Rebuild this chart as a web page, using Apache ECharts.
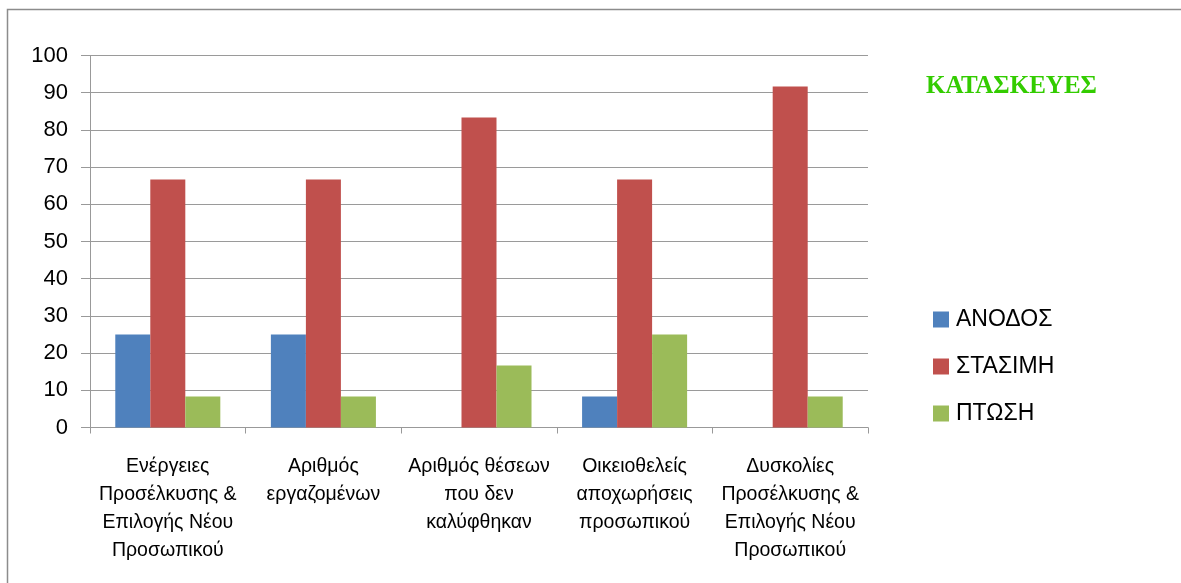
<!DOCTYPE html>
<html>
<head>
<meta charset="utf-8">
<script src="https://cdn.jsdelivr.net/npm/echarts@6/dist/echarts.min.js"></script>
<style>
html,body{margin:0;padding:0;background:#fff;}
#c{width:1181px;height:583px;}
</style>
</head>
<body>
<div id="c"></div>
<script>
const titleText = 'ΚΑΤΑΣΚΕΥΕΣ';
const categories = [
  'Ενέργειες\nΠροσέλκυσης &\nΕπιλογής Νέου\nΠροσωπικού',
  'Αριθμός\nεργαζομένων',
  'Αριθμός θέσεων\nπου δεν\nκαλύφθηκαν',
  'Οικειοθελείς\nαποχωρήσεις\nπροσωπικού',
  'Δυσκολίες\nΠροσέλκυσης &\nΕπιλογής Νέου\nΠροσωπικού'
];
const seriesNames = ['ΑΝΟΔΟΣ', 'ΣΤΑΣΙΜΗ', 'ΠΤΩΣΗ'];
const anodos  = [25, 25, 0, 8.33, 0];
const stasimi = [66.67, 66.67, 83.33, 66.67, 91.67];
const ptosi   = [8.33, 8.33, 16.67, 25, 8.33];
const yMin = 0, yMax = 100, yStep = 10;

const colors = ['#4F81BD', '#C0504D', '#9BBB59'];
const values = [anodos, stasimi, ptosi];

const chart = echarts.init(document.getElementById('c'), null, {renderer: 'canvas'});
chart.setOption({
  animation: false,
  backgroundColor: '#fff',
  title: {
    text: titleText,
    left: 921, top: 69,
    textStyle: {fontFamily: 'Liberation Serif', fontWeight: 'bold', fontSize: 25, color: '#33CC00'}
  },
  graphic: [{
    type: 'rect', silent: true, z: -1,
    shape: {x: 7.5, y: 9.5, width: 1250, height: 650},
    style: {fill: 'none', stroke: '#8c8c8c', lineWidth: 1.5}
  }],
  legend: {
    orient: 'vertical',
    left: 928, top: 303,
    itemWidth: 16, itemHeight: 16, itemGap: 24,
    icon: 'rect',
    textStyle: {fontFamily: 'Liberation Sans', fontSize: 23, color: '#000', padding: [0, 0, 0, 2]},
    data: seriesNames
  },
  grid: {left: 90, top: 55.5, width: 778, height: 372, containLabel: false},
  xAxis: {
    type: 'category',
    data: categories,
    axisLine: {lineStyle: {color: '#999', width: 1}},
    axisTick: {show: true, length: 6, lineStyle: {color: '#999'}},
    axisLabel: {
      interval: 0, margin: 25, lineHeight: 28,
      fontFamily: 'Liberation Sans', fontSize: 19.5, color: '#000'
    }
  },
  yAxis: {
    type: 'value',
    min: yMin, max: yMax, interval: yStep,
    axisLine: {show: true, lineStyle: {color: '#999'}},
    axisTick: {show: true, length: 9, lineStyle: {color: '#999'}},
    splitLine: {lineStyle: {color: '#9a9a9a', width: 1}},
    axisLabel: {margin: 22, fontFamily: 'Liberation Sans', fontSize: 22, color: '#000'}
  },
  series: seriesNames.map((n, i) => ({
    name: n,
    type: 'bar',
    data: values[i],
    barGap: '0%',
    barCategoryGap: '32.5%',
    itemStyle: {color: colors[i]}
  }))
});
</script>
</body>
</html>
